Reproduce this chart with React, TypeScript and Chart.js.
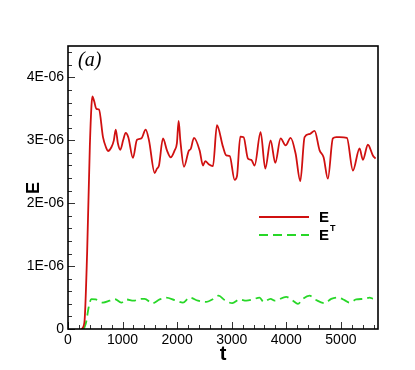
import React, { useEffect, useRef } from "react";
import { Chart, registerables } from "chart.js";

Chart.register(...registerables);

// E (total) — time and value (value in units of 1E-06)
const tE = [250, 300, 350, 400, 430, 447, 480, 520, 568, 641, 700, 733, 795, 840, 874, 915, 959, 1010, 1057, 1105, 1190, 1264, 1344, 1423, 1484, 1588, 1630, 1667, 1740, 1813, 1881, 1954, 1995, 2027, 2058, 2125, 2216, 2247, 2308, 2412, 2473, 2516, 2577, 2656, 2729, 2839, 2901, 2963, 3053, 3096, 3157, 3218, 3297, 3358, 3419, 3529, 3615, 3712, 3798, 3896, 3987, 4079, 4170, 4256, 4335, 4426, 4518, 4610, 4683, 4762, 4853, 4914, 4975, 5110, 5220, 5342, 5403, 5495, 5586, 5635];
const vE = [0, 0.1, 1.2, 2.9, 3.55, 3.7, 3.62, 3.5, 3.49, 3.05, 2.88, 2.83, 2.89, 3.0, 3.17, 2.95, 2.85, 3.0, 3.12, 3.05, 2.72, 3.01, 3.03, 3.17, 3.0, 2.48, 2.55, 2.6, 3.03, 2.84, 2.73, 2.84, 2.95, 3.31, 3.0, 2.58, 2.84, 2.86, 3.04, 2.84, 2.6, 2.67, 2.62, 2.59, 3.24, 2.9, 2.76, 2.75, 2.37, 2.43, 3.06, 3.05, 2.71, 2.69, 2.6, 3.13, 2.55, 3.0, 2.64, 3.03, 2.92, 3.04, 2.79, 2.35, 3.05, 3.1, 3.15, 2.84, 2.73, 2.39, 3.03, 3.05, 3.05, 3.04, 2.52, 2.87, 2.69, 2.93, 2.76, 2.71];

// E^T — time and value (value in units of 1E-06)
const tET = [290, 330, 380, 428, 507, 641, 763, 855, 977, 1068, 1203, 1312, 1404, 1545, 1680, 1801, 1954, 2107, 2229, 2381, 2534, 2644, 2760, 2870, 3010, 3144, 3266, 3388, 3511, 3584, 3712, 3786, 3999, 4121, 4213, 4304, 4426, 4548, 4701, 4823, 4945, 5067, 5159, 5281, 5433, 5525, 5586];
const vET = [0, 0.1, 0.35, 0.476, 0.47, 0.42, 0.45, 0.476, 0.42, 0.47, 0.45, 0.476, 0.48, 0.41, 0.47, 0.5, 0.46, 0.42, 0.5, 0.45, 0.43, 0.47, 0.53, 0.46, 0.41, 0.47, 0.45, 0.47, 0.5, 0.43, 0.48, 0.45, 0.51, 0.45, 0.4, 0.48, 0.53, 0.46, 0.41, 0.48, 0.5, 0.46, 0.42, 0.47, 0.48, 0.5, 0.48];

const xMin = 0;
const xMax = 5680;
const yMin = 0;
const yMax = 4.5;
const xTickValues = [0, 1000, 2000, 3000, 4000, 5000];
const yTickValues = [0, 1, 2, 3, 4];
const xTickLabels = ["0", "1000", "2000", "3000", "4000", "5000"];
const yTickLabels = ["0", "1E-06", "2E-06", "3E-06", "4E-06"];
const xMinorStep = 200;
const yMinorStep = 0.2;

const seriesLabels = ["E", "E"];
const seriesSup = ["", "T"];
const panelLabel = "(a)";
const xTitle = "t";
const yTitle = "E";

const RED = "rgb(208,16,16)";
const GREEN = "rgb(40,215,40)";
const FONT = "'Liberation Sans', Arial, sans-serif";

const decorPlugin = {
  id: "decor",
  afterDatasetsDraw(chart: any) {
    const { ctx, chartArea: a, scales } = chart;
    const xs = scales.x;
    const ys = scales.y;
    ctx.save();
    // inward ticks
    ctx.strokeStyle = "#333";
    ctx.lineWidth = 1;
    ctx.beginPath();
    const nx = Math.floor((xMax - xMin) / xMinorStep + 1e-9);
    for (let i = 0; i <= nx; i++) {
      const v = xMin + i * xMinorStep;
      const major = xTickValues.some((t) => Math.abs(t - v) < 1e-6);
      const px = Math.round(xs.getPixelForValue(v)) + 0.5;
      ctx.moveTo(px, a.bottom);
      ctx.lineTo(px, a.bottom - (major ? 7 : 4));
    }
    const ny = Math.floor((yMax - yMin) / yMinorStep + 1e-9);
    for (let i = 0; i <= ny; i++) {
      const v = yMin + i * yMinorStep;
      const major = yTickValues.some((t) => Math.abs(t - v) < 1e-6);
      const py = Math.round(ys.getPixelForValue(v)) + 0.5;
      ctx.moveTo(a.left, py);
      ctx.lineTo(a.left + (major ? 7 : 4), py);
    }
    ctx.stroke();
    // frame
    ctx.strokeStyle = "#000";
    ctx.lineWidth = 1.6;
    ctx.strokeRect(a.left, a.top, a.right - a.left, a.bottom - a.top);

    // panel label
    ctx.fillStyle = "#000";
    ctx.font = "italic 20px 'Liberation Serif', 'Times New Roman', serif";
    ctx.textAlign = "left";
    ctx.textBaseline = "alphabetic";
    ctx.fillText(panelLabel, a.left + 10, a.top + 20);

    // legend
    const lx0 = 259, lx1 = 309;
    const rows = [217, 235];
    const colors = [RED, GREEN];
    const dashes = [[], [9, 5]];
    rows.forEach((y, i) => {
      ctx.strokeStyle = colors[i];
      ctx.lineWidth = 2;
      ctx.setLineDash(dashes[i]);
      ctx.beginPath();
      ctx.moveTo(lx0, y);
      ctx.lineTo(lx1, y);
      ctx.stroke();
      ctx.setLineDash([]);
      ctx.fillStyle = "#000";
      ctx.font = `bold 15px ${FONT}`;
      ctx.textBaseline = "middle";
      ctx.fillText(seriesLabels[i], 319, y + 1);
      if (seriesSup[i]) {
        const w = ctx.measureText(seriesLabels[i]).width;
        ctx.font = `bold 9px ${FONT}`;
        ctx.fillText(seriesSup[i], 319 + w + 1, y - 6);
      }
    });

    // axis titles
    ctx.fillStyle = "#000";
    ctx.font = `bold 20px ${FONT}`;
    ctx.textAlign = "center";
    ctx.textBaseline = "alphabetic";
    ctx.fillText(xTitle, (a.left + a.right) / 2, 360);
    ctx.save();
    ctx.translate(39, 188);
    ctx.rotate(-Math.PI / 2);
    ctx.font = `bold 18px ${FONT}`;
    ctx.fillText(yTitle, 0, 0);
    ctx.restore();
    ctx.restore();
  },
};

export default function App() {
  const ref = useRef<HTMLCanvasElement>(null);
  useEffect(() => {
    if (!ref.current) return;
    const chart = new Chart(ref.current, {
      type: "scatter",
      data: {
        datasets: [
          {
            label: "E",
            data: tE.map((t, i) => ({ x: t, y: vE[i] })),
            borderColor: RED,
            borderWidth: 1.8,
            pointRadius: 0,
            showLine: true,
            cubicInterpolationMode: "monotone",
            fill: false,
          },
          {
            label: "ET",
            data: tET.map((t, i) => ({ x: t, y: vET[i] })),
            borderColor: GREEN,
            borderWidth: 1.8,
            borderDash: [9, 5],
            pointRadius: 0,
            showLine: true,
            cubicInterpolationMode: "monotone",
            fill: false,
          },
        ],
      },
      plugins: [decorPlugin],
      options: {
        animation: false,
        responsive: false,
        maintainAspectRatio: false,
        layout: { padding: { left: 0, right: 37, top: 46, bottom: 0 } },
        plugins: { legend: { display: false }, tooltip: { enabled: false } },
        scales: {
          x: {
            type: "linear",
            min: xMin,
            max: xMax,
            grid: { display: false, drawTicks: false },
            border: { display: false },
            afterBuildTicks: (s: any) => {
              s.ticks = xTickValues.map((v) => ({ value: v }));
            },
            ticks: {
              padding: 3,
              maxRotation: 0,
              autoSkip: false,
              color: "#000",
              font: { family: FONT, size: 14 },
              callback: (v: any) => xTickLabels[xTickValues.indexOf(v)] ?? String(v),
            },
            afterFit: (s: any) => {
              s.height = 41;
            },
          },
          y: {
            type: "linear",
            min: yMin,
            max: yMax,
            grid: { display: false, drawTicks: false },
            border: { display: false },
            afterBuildTicks: (s: any) => {
              s.ticks = yTickValues.map((v) => ({ value: v }));
            },
            ticks: {
              padding: 4,
              autoSkip: false,
              color: "#000",
              font: { family: FONT, size: 14 },
              callback: (v: any) => yTickLabels[yTickValues.indexOf(v)] ?? String(v),
            },
            afterFit: (s: any) => {
              s.width = 68;
            },
          },
        },
      },
    });
    return () => chart.destroy();
  }, []);
  return (
    <div style={{ position: "fixed", left: 0, top: 0, width: 415, height: 370, background: "#fff" }}>
      <canvas ref={ref} width={415} height={370} style={{ width: 415, height: 370 }} />
    </div>
  );
}
